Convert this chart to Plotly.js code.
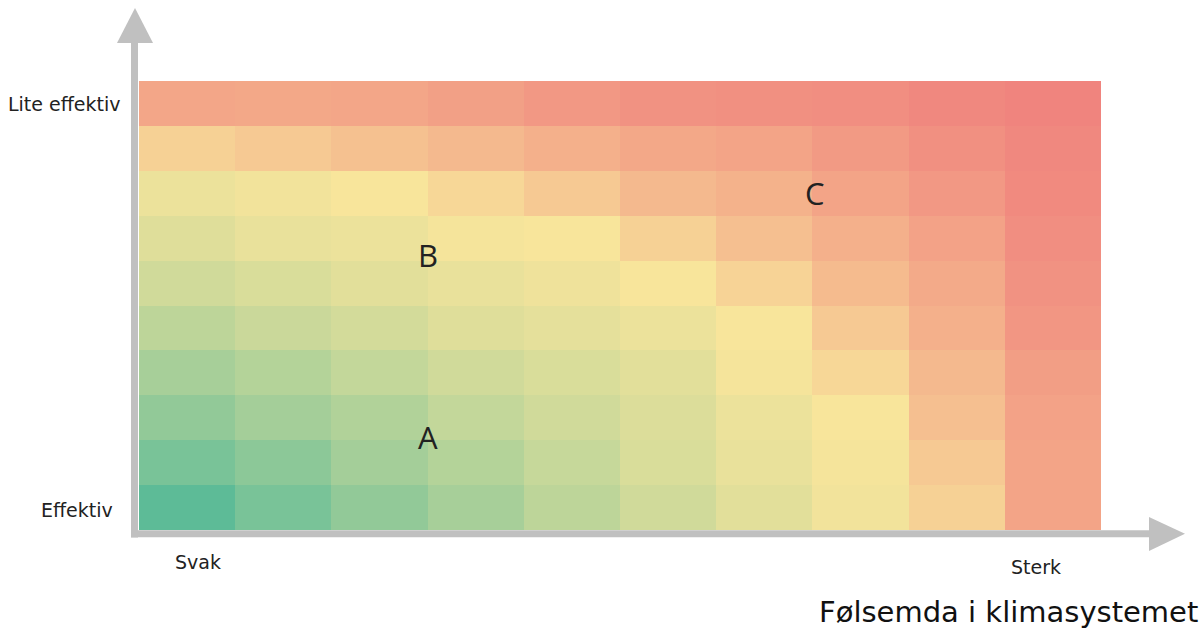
<!DOCTYPE html>
<html>
<head>
<meta charset="utf-8">
<script src="https://cdn.plot.ly/plotly-3.0.1.min.js"></script>
<style>html,body{margin:0;padding:0;background:#fff;}#chart{width:1204px;height:631px;}</style>
</head>
<body>
<div id="chart"></div>
<script>
// Columns: sensitivity of the climate system (Svak -> Sterk)
var cols = [0, 1, 2, 3, 4, 5, 6, 7, 8, 9];
// Rows: effectiveness (Effektiv -> Lite effektiv)
var rows = [0, 1, 2, 3, 4, 5, 6, 7, 8, 9];

// Cell values (0 = green, 50 = yellow, 100 = red), bottom row first
var row0 = [0, 9, 17, 24, 31, 37, 43, 48, 60, 83];
var row1 = [9, 15, 23, 28, 34, 40, 45, 49, 64, 83];
var row2 = [17, 23, 27, 33, 37, 41, 46, 50, 69, 84];
var row3 = [24, 28, 33, 37, 40, 43, 49, 57, 72, 86];
var row4 = [31, 35, 38, 42, 44, 46, 50, 64, 77, 90];
var row5 = [37, 40, 43, 45, 47, 50, 59, 71, 80, 92];
var row6 = [42, 45, 46, 49, 50, 60, 69, 77, 84, 94];
var row7 = [46, 48, 50, 57, 64, 72, 76, 83, 89, 96];
var row8 = [60, 64, 68, 72, 77, 81, 83, 88, 93, 97];
var row9 = [82, 81, 82, 85, 89, 92, 93, 94, 97, 99];

var xLow = "Svak", xHigh = "Sterk";
var yLow = "Effektiv", yHigh = "Lite effektiv";
var xTitle = "Følsemda i klimasystemet";
var zoneLabels = ["A", "B", "C"];
var zoneX = [2.5, 2.5, 6.53];
var zoneY = [1.57, 5.62, 7.0];

var z = [row0, row1, row2, row3, row4, row5, row6, row7, row8, row9];

var trace = {
  type: 'heatmap',
  x: cols,
  y: rows,
  z: z,
  zmin: 0,
  zmax: 100,
  colorscale: [[0, '#5dbb97'], [0.5, '#f8e59b'], [1, '#f0827d']],
  showscale: false,
  hoverinfo: 'skip'
};

// pixel -> paper helpers (plot area 139..1101 x 81..530)
var L = 139, R = 1101, T = 81, B = 530;
function px(x) { return (x - L) / (R - L); }
function py(y) { return (B - y) / (B - T); }

var grey = '#c0c0c0';
var shapes = [
  {type: 'line', xref: 'paper', yref: 'paper', x0: px(134.5), x1: px(134.5), y0: py(537.5), y1: py(42),
   line: {color: grey, width: 7}},
  {type: 'path', xref: 'paper', yref: 'paper',
   path: 'M ' + px(117) + ' ' + py(43) + ' L ' + px(135) + ' ' + py(8) + ' L ' + px(153) + ' ' + py(43) + ' Z',
   fillcolor: grey, line: {width: 0}},
  {type: 'line', xref: 'paper', yref: 'paper', x0: px(131), x1: px(1150), y0: py(533.7), y1: py(533.7),
   line: {color: grey, width: 7}},
  {type: 'path', xref: 'paper', yref: 'paper',
   path: 'M ' + px(1149) + ' ' + py(517) + ' L ' + px(1185) + ' ' + py(533.7) + ' L ' + px(1149) + ' ' + py(551) + ' Z',
   fillcolor: grey, line: {width: 0}}
];

var lblFont = {family: 'DejaVu Sans, Liberation Sans, sans-serif', size: 19, color: '#222222'};
var annotations = [
  {text: yHigh, xref: 'paper', yref: 'paper', x: px(123), y: py(104), xanchor: 'right', yanchor: 'middle', showarrow: false, font: lblFont},
  {text: yLow, xref: 'paper', yref: 'paper', x: px(115), y: py(510), xanchor: 'right', yanchor: 'middle', showarrow: false, font: lblFont},
  {text: xLow, xref: 'paper', yref: 'paper', x: px(198), y: py(562), xanchor: 'center', yanchor: 'middle', showarrow: false, font: lblFont},
  {text: xHigh, xref: 'paper', yref: 'paper', x: px(1035.5), y: py(567), xanchor: 'center', yanchor: 'middle', showarrow: false, font: lblFont},
  {text: xTitle, xref: 'paper', yref: 'paper', x: px(1200), y: py(612), xanchor: 'right', yanchor: 'middle', showarrow: false,
   font: {family: 'DejaVu Sans, Liberation Sans, sans-serif', size: 29, color: '#111111'}}
];
for (var i = 0; i < zoneLabels.length; i++) {
  annotations.push({text: zoneLabels[i], x: zoneX[i], y: zoneY[i], xref: 'x', yref: 'y', showarrow: false,
    xanchor: 'center', yanchor: 'middle',
    font: {family: 'Open Sans, DejaVu Sans, sans-serif', size: 31, color: '#222222'}});
}

var layout = {
  width: 1204,
  height: 631,
  margin: {l: L, r: 1204 - R, t: T, b: 631 - B, pad: 0},
  paper_bgcolor: '#ffffff',
  plot_bgcolor: '#ffffff',
  xaxis: {range: [-0.5, 9.5], showgrid: false, zeroline: false, showticklabels: false, ticks: '', showline: false, fixedrange: true},
  yaxis: {range: [-0.5, 9.5], showgrid: false, zeroline: false, showticklabels: false, ticks: '', showline: false, fixedrange: true},
  shapes: shapes,
  annotations: annotations,
  showlegend: false
};

Plotly.newPlot('chart', [trace], layout, {displayModeBar: false, staticPlot: true});
</script>
</body>
</html>
